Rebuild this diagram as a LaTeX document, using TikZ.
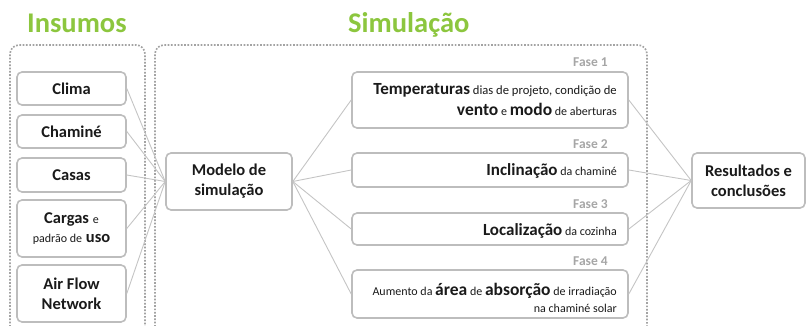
\documentclass[tikz,border=0pt]{standalone}
\usepackage{fontspec}
\setmainfont{Carlito}
\definecolor{grn}{HTML}{8CC63E}
\definecolor{bx}{HTML}{BDBDBD}
\definecolor{ln}{HTML}{C4C4C4}
\definecolor{fasec}{HTML}{A6A6A6}
\definecolor{dotc}{HTML}{A3A3A3}
\definecolor{txt}{HTML}{1A1A1A}
\tikzset{
  box/.style={draw=bx, line width=1.6pt, rounded corners=5pt, fill=white, inner sep=0pt, align=center, text=txt,
    font=\fontsize{16.5}{20}\selectfont\bfseries},
  leftbox/.style={box, minimum width=109pt},
  phasebox/.style={box, minimum width=276pt},
  conn/.style={draw=ln, line width=0.9pt},
  dotbox/.style={draw=dotc, line width=1.7pt, dash pattern=on 1.7pt off 1.6pt, rounded corners=9pt},
  title/.style={text=grn, font=\fontsize{28.5}{30}\selectfont\bfseries, inner sep=0pt, anchor=base west},
  fase/.style={text=fasec, font=\fontsize{13.5}{14}\selectfont\bfseries, inner sep=0pt, anchor=base east},
  ptxt/.style={text=txt, inner sep=0pt, anchor=base east, font=\fontsize{12}{14}\selectfont},
}
\newcommand{\bg}[1]{{\fontsize{17.5}{20}\selectfont\bfseries #1}}
\newcommand{\md}[1]{{\fontsize{17}{20}\selectfont\bfseries #1}}
\newcommand{\sm}[1]{{\fontsize{12}{14}\selectfont\mdseries #1}}
\begin{document}
\begin{tikzpicture}[x=1pt,y=-1pt]
\useasboundingbox (0,0) rectangle (810,326);
% titles
\node[title] (tins) at (27,33) {Insumos};
\node[title] (tsim) at (348,33) {Simulação};
% dotted frames
\draw[dotbox] (10,330) -- (10,45) -- (145,45) -- (145,330);
\draw[dotbox] (155,330) -- (155,45) -- (647,45) -- (647,330);
% left boxes
\node[leftbox, minimum height=33pt] (clima) at (71.5,88.5) {Clima};
\node[leftbox, minimum height=33pt] (chamine) at (71.5,131.5) {Chaminé};
\node[leftbox, minimum height=34pt] (casas) at (71.5,175) {Casas};
\node[leftbox, minimum height=57pt] (cargas) at (71.5,228.5) {Cargas \sm{e}\\[-1pt]\sm{padrão de} uso};
\node[leftbox, minimum height=57pt] (airflow) at (71.5,293.5) {Air Flow\\Network};
% model
\node[box, minimum width=126pt, minimum height=57pt] (modelo) at (229,181.5) {Modelo de\\simulação};
% phase boxes
\node[phasebox, minimum height=56pt] (f1) at (490,100) {};
\node[phasebox, minimum height=34pt] (f2) at (490,170) {};
\node[phasebox, minimum height=32pt] (f3) at (490,229) {};
\node[phasebox, minimum height=48pt] (f4) at (490,294) {};
% phase labels
\node[fase] (l1) at (608,67) {Fase 1};
\node[fase] (l2) at (608,148) {Fase 2};
\node[fase] (l3) at (608,208) {Fase 3};
\node[fase] (l4) at (608,265) {Fase 4};
% phase texts
\node[ptxt, font=\fontsize{12.6}{14}\selectfont] (f1a) at (617,95) {\md{Temperaturas} dias de projeto, condição de};
\node[ptxt] (f1b) at (617,116) {\bg{vento} e \bg{modo} de aberturas};
\node[ptxt] (f2a) at (617,175) {\md{Inclinação} da chaminé};
\node[ptxt] (f3a) at (617,235) {\md{Localização} da cozinha};
\node[ptxt] (f4a) at (617,295) {Aumento da \bg{área} de \bg{absorção} de irradiação};
\node[ptxt] (f4b) at (617,312) {na chaminé solar};
% results
\node[box, minimum width=113pt, minimum height=55pt] (res) at (748.5,180.5) {Resultados e\\conclusões};
% connectors
\foreach \n in {clima,chamine,casas,cargas,airflow} \draw[conn] (\n.east) -- (modelo.west);
\foreach \n in {f1,f2,f3,f4} {
  \draw[conn] (modelo.east) -- (\n.west);
  \draw[conn] (\n.east) -- (res.west);
}
\end{tikzpicture}
\end{document}
